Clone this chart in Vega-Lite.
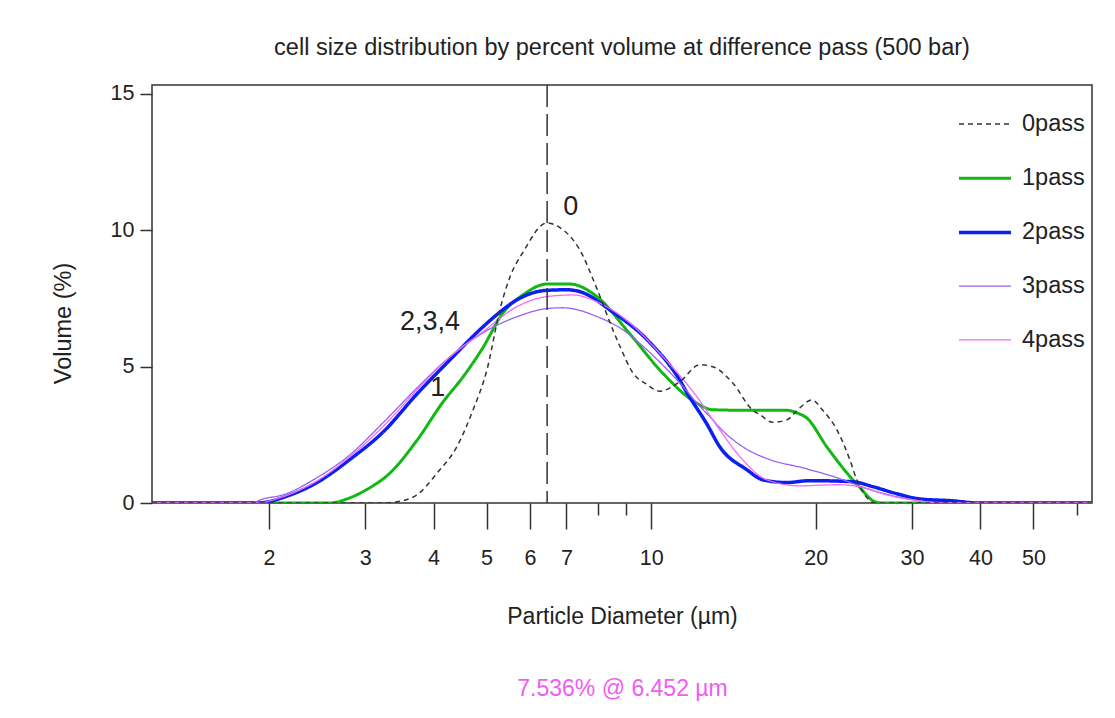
{
  "$schema": "https://vega.github.io/schema/vega-lite/v6.json",
  "width": 940,
  "height": 418,
  "autosize": {"type": "none"},
  "padding": {"left": 152, "top": 85, "right": 23, "bottom": 215},
  "background": "white",
  "title": {"text": "cell size distribution by percent volume at difference pass (500 bar)", "fontSize": 23.5, "font": "Liberation Sans", "fontWeight": "normal", "color": "#222", "anchor": "middle", "offset": 23},
  "datasets": {
    "curves": [
      {"p": "1pass", "d": 1.222, "v": 0}, {"p": "1pass", "d": 2.586, "v": 0}, {"p": "1pass", "d": 2.778, "v": 0.15}, {"p": "1pass", "d": 3.022, "v": 0.5}, {"p": "1pass", "d": 3.329, "v": 1.1}, {"p": "1pass", "d": 3.73, "v": 2.3}, {"p": "1pass", "d": 4.16, "v": 3.7}, {"p": "1pass", "d": 4.526, "v": 4.62}, {"p": "1pass", "d": 4.924, "v": 5.7}, {"p": "1pass", "d": 5.356, "v": 6.97}, {"p": "1pass", "d": 5.826, "v": 7.63}, {"p": "1pass", "d": 6.445, "v": 8.03}, {"p": "1pass", "d": 7.1, "v": 8.03}, {"p": "1pass", "d": 7.956, "v": 7.57}, {"p": "1pass", "d": 9.142, "v": 6.2}, {"p": "1pass", "d": 10.5, "v": 4.76}, {"p": "1pass", "d": 12.12, "v": 3.66}, {"p": "1pass", "d": 12.96, "v": 3.42}, {"p": "1pass", "d": 14.96, "v": 3.4}, {"p": "1pass", "d": 17.7, "v": 3.4}, {"p": "1pass", "d": 18.5, "v": 3.3}, {"p": "1pass", "d": 19.25, "v": 3.12}, {"p": "1pass", "d": 20.95, "v": 2.06}, {"p": "1pass", "d": 22.79, "v": 1.11}, {"p": "1pass", "d": 24.08, "v": 0.57}, {"p": "1pass", "d": 25.63, "v": 0.05}, {"p": "1pass", "d": 26.5, "v": 0}, {"p": "1pass", "d": 64, "v": 0},
      {"p": "2pass", "d": 1.222, "v": 0}, {"p": "2pass", "d": 1.9, "v": 0}, {"p": "2pass", "d": 2.0, "v": 0.05}, {"p": "2pass", "d": 2.121, "v": 0.2}, {"p": "2pass", "d": 2.448, "v": 0.75}, {"p": "2pass", "d": 2.813, "v": 1.6}, {"p": "2pass", "d": 3.232, "v": 2.6}, {"p": "2pass", "d": 3.73, "v": 4.0}, {"p": "2pass", "d": 4.285, "v": 5.25}, {"p": "2pass", "d": 4.924, "v": 6.46}, {"p": "2pass", "d": 5.289, "v": 7.0}, {"p": "2pass", "d": 5.681, "v": 7.45}, {"p": "2pass", "d": 6.445, "v": 7.8}, {"p": "2pass", "d": 7.011, "v": 7.82}, {"p": "2pass", "d": 7.407, "v": 7.75}, {"p": "2pass", "d": 8.512, "v": 7.0}, {"p": "2pass", "d": 9.818, "v": 6.0}, {"p": "2pass", "d": 11.28, "v": 4.5}, {"p": "2pass", "d": 11.62, "v": 4.05}, {"p": "2pass", "d": 12.64, "v": 2.9}, {"p": "2pass", "d": 13.35, "v": 2.06}, {"p": "2pass", "d": 14.96, "v": 1.22}, {"p": "2pass", "d": 16.0, "v": 0.85}, {"p": "2pass", "d": 17.7, "v": 0.75}, {"p": "2pass", "d": 19.5, "v": 0.82}, {"p": "2pass", "d": 23.37, "v": 0.78}, {"p": "2pass", "d": 25.42, "v": 0.6}, {"p": "2pass", "d": 28.13, "v": 0.34}, {"p": "2pass", "d": 30.98, "v": 0.15}, {"p": "2pass", "d": 35.62, "v": 0.08}, {"p": "2pass", "d": 39.57, "v": 0}, {"p": "2pass", "d": 64, "v": 0},
      {"p": "3pass", "d": 1.222, "v": 0}, {"p": "3pass", "d": 1.85, "v": 0}, {"p": "3pass", "d": 1.95, "v": 0.15}, {"p": "3pass", "d": 2.121, "v": 0.3}, {"p": "3pass", "d": 2.448, "v": 0.93}, {"p": "3pass", "d": 2.813, "v": 1.77}, {"p": "3pass", "d": 3.232, "v": 2.94}, {"p": "3pass", "d": 3.73, "v": 4.22}, {"p": "3pass", "d": 4.285, "v": 5.36}, {"p": "3pass", "d": 4.924, "v": 6.24}, {"p": "3pass", "d": 5.681, "v": 6.83}, {"p": "3pass", "d": 6.445, "v": 7.13}, {"p": "3pass", "d": 6.894, "v": 7.16}, {"p": "3pass", "d": 7.956, "v": 6.84}, {"p": "3pass", "d": 8.879, "v": 6.35}, {"p": "3pass", "d": 9.818, "v": 5.62}, {"p": "3pass", "d": 11.28, "v": 4.4}, {"p": "3pass", "d": 12.27, "v": 3.55}, {"p": "3pass", "d": 12.96, "v": 3.05}, {"p": "3pass", "d": 13.35, "v": 2.76}, {"p": "3pass", "d": 14.71, "v": 2.06}, {"p": "3pass", "d": 16.48, "v": 1.59}, {"p": "3pass", "d": 18.93, "v": 1.29}, {"p": "3pass", "d": 21.85, "v": 0.93}, {"p": "3pass", "d": 25.1, "v": 0.49}, {"p": "3pass", "d": 28.13, "v": 0.23}, {"p": "3pass", "d": 30.98, "v": 0.08}, {"p": "3pass", "d": 33, "v": 0}, {"p": "3pass", "d": 64, "v": 0},
      {"p": "4pass", "d": 1.222, "v": 0}, {"p": "4pass", "d": 1.9, "v": 0}, {"p": "4pass", "d": 2.121, "v": 0.23}, {"p": "4pass", "d": 2.448, "v": 0.81}, {"p": "4pass", "d": 2.813, "v": 1.7}, {"p": "4pass", "d": 3.232, "v": 2.8}, {"p": "4pass", "d": 3.73, "v": 4.15}, {"p": "4pass", "d": 4.285, "v": 5.36}, {"p": "4pass", "d": 4.924, "v": 6.28}, {"p": "4pass", "d": 5.681, "v": 7.2}, {"p": "4pass", "d": 6.445, "v": 7.57}, {"p": "4pass", "d": 7.191, "v": 7.63}, {"p": "4pass", "d": 7.956, "v": 7.38}, {"p": "4pass", "d": 9.142, "v": 6.6}, {"p": "4pass", "d": 10.5, "v": 5.37}, {"p": "4pass", "d": 12.12, "v": 3.9}, {"p": "4pass", "d": 13.35, "v": 2.68}, {"p": "4pass", "d": 14.53, "v": 1.7}, {"p": "4pass", "d": 16.27, "v": 0.85}, {"p": "4pass", "d": 18.7, "v": 0.63}, {"p": "4pass", "d": 21.85, "v": 0.67}, {"p": "4pass", "d": 24.08, "v": 0.6}, {"p": "4pass", "d": 26.96, "v": 0.3}, {"p": "4pass", "d": 30.98, "v": 0.08}, {"p": "4pass", "d": 34, "v": 0}, {"p": "4pass", "d": 64, "v": 0},
      {"p": "0pass", "d": 1.222, "v": 0}, {"p": "0pass", "d": 3.19, "v": 0}, {"p": "0pass", "d": 3.43, "v": 0.05}, {"p": "0pass", "d": 3.73, "v": 0.3}, {"p": "0pass", "d": 4.06, "v": 1.1}, {"p": "0pass", "d": 4.41, "v": 2.06}, {"p": "0pass", "d": 4.72, "v": 3.4}, {"p": "0pass", "d": 5.01, "v": 4.9}, {"p": "0pass", "d": 5.29, "v": 7.1}, {"p": "0pass", "d": 5.52, "v": 8.3}, {"p": "0pass", "d": 5.83, "v": 9.2}, {"p": "0pass", "d": 6.45, "v": 10.27}, {"p": "0pass", "d": 6.81, "v": 10.1}, {"p": "0pass", "d": 7.41, "v": 9.27}, {"p": "0pass", "d": 7.96, "v": 7.85}, {"p": "0pass", "d": 8.51, "v": 6.35}, {"p": "0pass", "d": 8.77, "v": 5.74}, {"p": "0pass", "d": 9.26, "v": 4.77}, {"p": "0pass", "d": 9.82, "v": 4.35}, {"p": "0pass", "d": 10.37, "v": 4.1}, {"p": "0pass", "d": 11.28, "v": 4.45}, {"p": "0pass", "d": 12.27, "v": 5.07}, {"p": "0pass", "d": 12.96, "v": 5.0}, {"p": "0pass", "d": 14.1, "v": 4.4}, {"p": "0pass", "d": 15.34, "v": 3.4}, {"p": "0pass", "d": 15.8, "v": 3.24}, {"p": "0pass", "d": 16.69, "v": 2.96}, {"p": "0pass", "d": 17.7, "v": 3.05}, {"p": "0pass", "d": 18.7, "v": 3.49}, {"p": "0pass", "d": 19.67, "v": 3.78}, {"p": "0pass", "d": 20.6, "v": 3.4}, {"p": "0pass", "d": 21.85, "v": 2.69}, {"p": "0pass", "d": 23.08, "v": 1.59}, {"p": "0pass", "d": 23.77, "v": 0.85}, {"p": "0pass", "d": 24.38, "v": 0.41}, {"p": "0pass", "d": 25.63, "v": 0}, {"p": "0pass", "d": 64, "v": 0}
    ],
    "notes": [
      {"d": 7.13, "v": 10.85, "t": "0"},
      {"d": 3.94, "v": 6.62, "t": "2,3,4"},
      {"d": 4.07, "v": 4.22, "t": "1"}
    ],
    "cursor": [{"d": 6.452}]
  },
  "layer": [
    {
      "data": {"name": "curves"},
      "mark": {"type": "line", "interpolate": "monotone", "clip": true},
      "encoding": {
        "x": {
          "field": "d", "type": "quantitative",
          "scale": {"type": "log", "domain": [1.222, 64], "nice": false},
          "axis": {
            "orient": "bottom",
            "values": [2, 3, 4, 5, 6, 7, 8, 9, 10, 20, 30, 40, 50, 60],
            "labelExpr": "indexof([8, 9, 60], datum.value) >= 0 ? '' : '' + datum.value",
            "tickSize": {"condition": {"test": "indexof([8, 9, 60], datum.value) >= 0", "value": 12}, "value": 26},
            "labelPadding": 18,
            "labelFontSize": 21.5,
            "labelOverlap": false,
            "labelFlush": false,
            "title": "Particle Diameter (µm)",
            "titleFontSize": 23,
            "titlePadding": 37
          }
        },
        "y": {
          "field": "v", "type": "quantitative",
          "scale": {"domain": [0, 15.33], "nice": false},
          "axis": {
            "values": [0, 5, 10, 15],
            "tickSize": 12,
            "labelPadding": 6,
            "labelFontSize": 21.5,
            "title": "Volume (%)",
            "titleFontSize": 23.5,
            "titleX": -77,
            "titleY": 238
          }
        },
        "color": {
          "field": "p", "type": "nominal",
          "scale": {"domain": ["0pass", "1pass", "2pass", "3pass", "4pass"], "range": ["#333333", "#12b812", "#0a20f2", "#9462f2", "#f46af4"]},
          "legend": {"orient": "none", "legendX": 805, "legendY": 12, "title": null}
        },
        "strokeDash": {
          "field": "p", "type": "nominal",
          "scale": {"domain": ["0pass", "1pass", "2pass", "3pass", "4pass"], "range": [[5, 4], [1, 0], [1, 0], [1, 0], [1, 0]]},
          "legend": {"orient": "none", "legendX": 805, "legendY": 12, "title": null}
        },
        "strokeWidth": {
          "field": "p", "type": "nominal",
          "scale": {"type": "ordinal", "domain": ["0pass", "1pass", "2pass", "3pass", "4pass"], "range": [1.5, 3, 3.5, 1.3, 1.3]},
          "legend": {"orient": "none", "legendX": 805, "legendY": 12, "title": null}
        }
      }
    },
    {
      "data": {"name": "notes"},
      "mark": {"type": "text", "fontSize": 27, "font": "Liberation Sans", "color": "#222", "baseline": "middle", "align": "center"},
      "encoding": {
        "x": {"field": "d", "type": "quantitative", "axis": null},
        "y": {"field": "v", "type": "quantitative"},
        "text": {"field": "t"}
      }
    },
    {
      "data": {"name": "cursor"},
      "mark": {"type": "rule", "color": "#333", "strokeWidth": 1.5, "strokeDash": [22, 7]},
      "encoding": {
        "x": {
          "field": "d", "type": "quantitative",
          "axis": {"orient": "bottom", "domain": false, "ticks": false, "labels": false, "grid": false, "title": "7.536% @ 6.452 µm", "titleColor": "#f25cf2", "titleFontSize": 23, "titlePadding": 174}
        }
      }
    }
  ],
  "resolve": {"axis": {"x": "independent"}},
  "config": {
    "font": "Liberation Sans",
    "view": {"stroke": "#333", "strokeWidth": 1.5},
    "axis": {"labelFont": "Liberation Sans", "titleFont": "Liberation Sans", "titleFontWeight": "normal", "labelColor": "#222", "titleColor": "#222", "tickColor": "#333", "tickWidth": 1.5, "grid": false, "domain": false},
    "legend": {"symbolType": "stroke", "symbolSize": 2704, "labelFontSize": 23.5, "labelFont": "Liberation Sans", "labelColor": "#222", "labelOffset": 9, "rowPadding": 14.7, "padding": 0, "symbolFillColor": "transparent"}
  }
}
